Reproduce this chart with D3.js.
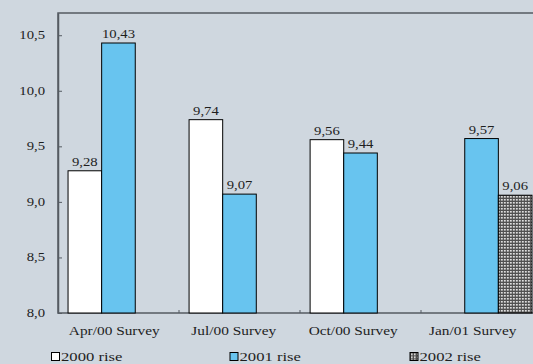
<!DOCTYPE html>
<html><head><meta charset="utf-8">
<script src="https://cdn.jsdelivr.net/npm/d3@7"></script>
<style>html,body{margin:0;padding:0;background:#cfd7df;overflow:hidden}svg{display:block}
svg text{font-family:"Liberation Serif","Times New Roman",Times,serif;}</style>
</head><body>
<svg id="c" width="533" height="364"></svg>
<script>
const categories = ["Apr/00 Survey", "Jul/00 Survey", "Oct/00 Survey", "Jan/01 Survey"];
const seriesNames = ["2000 rise", "2001 rise", "2002 rise"];
const rise2000 = [9.28, 9.74, 9.56, null];
const rise2001 = [10.43, 9.07, 9.44, 9.57];
const rise2002 = [null, null, null, 9.06];
const yTicks = [8.0, 8.5, 9.0, 9.5, 10.0, 10.5];

(function () {
const seriesValues = [rise2000, rise2001, rise2002];
const fmt = v => v.toFixed(2).replace(".", ",");
const fmt1 = v => v.toFixed(1).replace(".", ",");

const svg = d3.select("#c");
const SX = 1.28;
const pLeft = 58, pRight = 542, pTop = 13, pBottom = 313;

function label(parent, x, y, txt, anchor, size) {
  return parent.append("text")
    .attr("transform", `translate(${x},${y}) scale(${SX},1)`)
    .attr("text-anchor", anchor).attr("font-size", size || 12)
    .attr("fill", "#1e1e1e").text(txt);
}

const defs = svg.append("defs");
const pat = defs.append("pattern").attr("id", "chk").attr("patternUnits", "userSpaceOnUse")
  .attr("width", 3).attr("height", 3);
pat.append("rect").attr("width", 3).attr("height", 3).attr("fill", "#505050");
pat.append("rect").attr("x", 1).attr("y", 1).attr("width", 1.6).attr("height", 1.6).attr("fill", "#f4f4f4");

const fills = ["#ffffff", "#68c4ef", "url(#chk)"];

const y = d3.scaleLinear().domain([8, 10.7]).range([pBottom, pTop]);
const x0 = d3.scaleBand().domain(categories).range([pLeft, pRight]).paddingInner(0.167).paddingOuter(0.083);
const x1 = d3.scaleBand().domain(seriesNames).range([0, x0.bandwidth()]);
const xEdge = d3.scaleBand().domain(categories).range([pLeft, pRight]);
const xLab = d3.scaleBand().domain(categories).range([54.5, 532.5]);

// frame
svg.append("rect").attr("x", pLeft).attr("y", pTop).attr("width", pRight - pLeft).attr("height", pBottom - pTop)
  .attr("fill", "none").attr("stroke", "#555b62").attr("stroke-width", 1.5);

// y axis
const yAxis = d3.axisLeft(y).tickValues(yTicks).tickFormat("").tickSizeInner(-4).tickSizeOuter(0);
const gy = svg.append("g").attr("transform", `translate(${pLeft},0)`).call(yAxis);
gy.select(".domain").attr("stroke", "#555b62").attr("stroke-width", 1.5);
gy.selectAll(".tick line").attr("stroke", "#555b62");
const gyl = svg.append("g");
yTicks.forEach(t => label(gyl, 45, y(t) + 4, fmt1(t), "end", 11.5));

// x ticks at band boundaries
svg.append("g").selectAll("line").data(categories.slice(1)).join("line")
  .attr("x1", d => xEdge(d)).attr("x2", d => xEdge(d))
  .attr("y1", pBottom).attr("y2", pBottom - 3).attr("stroke", "#555b62");

// bars
const groups = svg.append("g").selectAll("g").data(categories).join("g")
  .attr("transform", d => `translate(${x0(d)},0)`);
groups.each(function(cat, ci) {
  const g = d3.select(this);
  seriesNames.forEach((s, si) => {
    const v = seriesValues[si][ci];
    if (v == null) return;
    g.append("rect").attr("x", x1(s)).attr("y", y(v)).attr("width", x1.bandwidth())
      .attr("height", y(8) - y(v)).attr("fill", fills[si]).attr("stroke", "#000").attr("stroke-width", 1);
    label(g, x1(s) + x1.bandwidth() / 2, y(v) - 5, fmt(v), "middle", 11.5);
  });
});

// category labels
const gcl = svg.append("g");
categories.forEach(c => label(gcl, xLab(c) + xLab.bandwidth() / 2, 335, c, "middle", 12));

// legend
const legX = [51.5, 230, 410];
seriesNames.forEach((s, i) => {
  const g = svg.append("g").attr("transform", `translate(${legX[i]},352.5)`);
  g.append("rect").attr("width", 8).attr("height", 8).attr("fill", fills[i]).attr("stroke", "#000");
  label(g, 9.5, 8.3, s, "start", 13);
});
})();
</script>
</body></html>
